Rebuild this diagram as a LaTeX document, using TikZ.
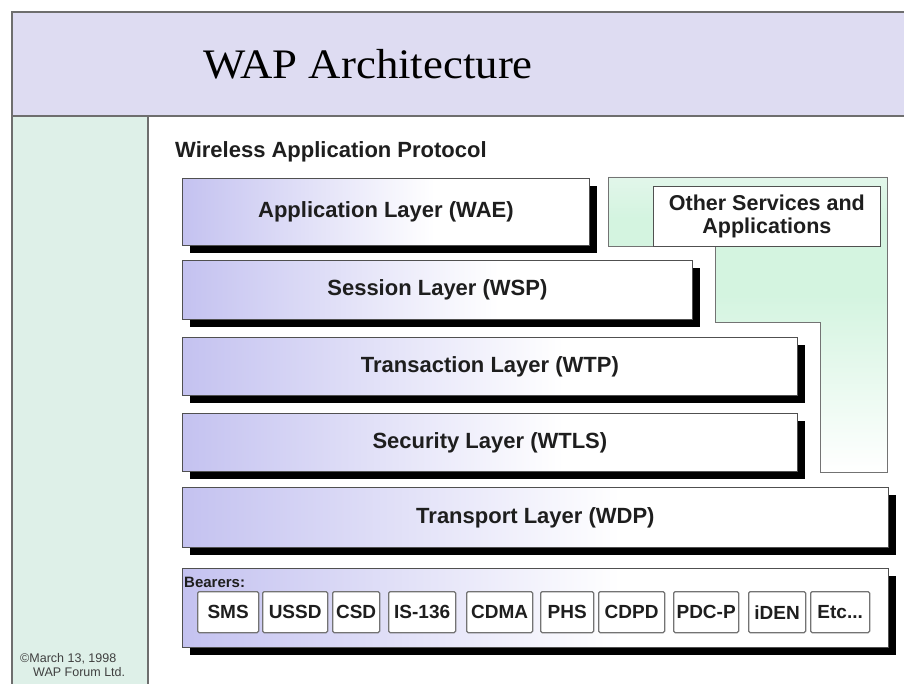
\documentclass[tikz,border=0pt]{standalone}
\usepackage{fontspec}
\setmainfont{Liberation Serif}
\setsansfont{Liberation Sans}
\usetikzlibrary{shadows}
\definecolor{bandcol}{RGB}{222,220,242}
\definecolor{colgreen}{RGB}{222,240,232}
\definecolor{lav}{RGB}{196,194,240}
\definecolor{grnA}{RGB}{226,246,234}
\definecolor{grnB}{RGB}{212,244,224}
\definecolor{framecol}{RGB}{110,110,110}
\definecolor{boxline}{RGB}{80,80,80}
\definecolor{txt}{RGB}{30,30,30}
\pgfdeclarehorizontalshading{layershade}{100bp}{color(0bp)=(lav); color(25bp)=(lav); color(56bp)=(white); color(100bp)=(white)}
\pgfdeclareverticalshading{greenshade}{100bp}{color(0bp)=(white); color(25bp)=(white); color(55bp)=(grnB); color(68bp)=(grnB); color(75bp)=(grnA); color(100bp)=(grnA)}
\tikzset{
  layer/.style={draw=boxline, line width=0.8pt, shading=layershade, anchor=north west, inner sep=0pt,
    font=\sffamily\bfseries\fontsize{22}{24}\selectfont, text=txt,
    general shadow={fill=black, shadow xshift=7.5pt, shadow yshift=-8pt}},
  bearer/.style={draw=boxline!80, line width=1.3pt, rounded corners=1.5pt, fill=white, anchor=north west,
    inner sep=0pt, minimum height=41pt, font=\sffamily\bfseries\fontsize{19}{20}\selectfont, text=txt},
  small/.style={anchor=base west, inner sep=0pt, font=\sffamily\fontsize{12.5}{13}\selectfont, text=black!75},
}
\begin{document}
\begin{tikzpicture}[x=1pt,y=-1pt]
\useasboundingbox (0,0) rectangle (904,684);
\fill[white] (0,0) rectangle (904,684);
% title band and left column
\fill[bandcol] (12,12) rectangle (904,116);
\fill[colgreen] (12,116) rectangle (148,684);
\draw[framecol, line width=1.5pt] (904,12) -- (12,12) -- (12,684);
\draw[framecol, line width=2.2pt] (12,116) -- (904,116);
\draw[framecol, line width=1.5pt] (148,116) -- (148,684);
\node[anchor=base west, inner sep=0pt, font=\fontsize{40}{44}\selectfont, text=black] (title) at (203,79) {\scalebox{1.12}[1.05]{WAP Architecture}};
\node[anchor=base west, inner sep=0pt, font=\sffamily\bfseries\fontsize{22}{24}\selectfont, text=txt] (wap) at (175,158) {Wireless Application Protocol};
% other services region
\draw[boxline!80, line width=0.8pt, shading=greenshade] (608,177) -- (887,177) -- (887,472) -- (820,472) -- (820,322) -- (715,322) -- (715,246) -- (608,246) -- cycle;
\node[draw=boxline, line width=0.8pt, fill=white, anchor=north west, inner sep=0pt, minimum width=227pt, minimum height=60pt,
  align=center, font=\sffamily\bfseries\fontsize{21.5}{23.5}\selectfont, text=txt] (other) at (653,186) {Other Services and\\Applications};
% layers
\node[layer, minimum width=407pt, minimum height=67pt] (app) at (182,178) {Application Layer (WAE)};
\node[layer, minimum width=510pt, minimum height=59pt] (ses) at (182,260) {Session Layer (WSP)};
\node[layer, minimum width=615pt, minimum height=58pt] (trn) at (182,337) {Transaction Layer (WTP)};
\node[layer, minimum width=615pt, minimum height=58pt] (sec) at (182,413) {Security Layer (WTLS)};
\node[layer, minimum width=706pt, minimum height=60pt] (trp) at (182,487) {Transport Layer (WDP)};
\node[layer, minimum width=706pt, minimum height=79pt] (bear) at (182,568) {};
\node[anchor=base west, inner sep=0pt, font=\sffamily\bfseries\fontsize{15}{16}\selectfont, text=txt] (bearlbl) at (184,587) {Bearers:};
% bearer boxes
\node[bearer, minimum width=61pt] (sms) at (197,591) {SMS};
\node[bearer, minimum width=65pt] (ussd) at (262,591) {USSD};
\node[bearer, minimum width=47pt] (csd) at (332,591) {CSD};
\node[bearer, minimum width=67pt] (is) at (388,591) {IS-136};
\node[bearer, minimum width=66pt] (cdma) at (466,591) {\raisebox{-3pt}{CDMA}};
\node[bearer, minimum width=53pt] (phs) at (540,591) {\raisebox{-3pt}{PHS}};
\node[bearer, minimum width=66pt] (cdpd) at (598,591) {CDPD};
\node[bearer, minimum width=65pt] (pdc) at (673,591) {PDC-P};
\node[bearer, minimum width=57pt] (iden) at (748,591) {\raisebox{-3pt}{iDEN}};
\node[bearer, minimum width=59pt] (etc) at (810,591) {Etc...};
% copyright
\node[small] (copy1) at (20,662) {\textcopyright March 13, 1998};
\node[small] (copy2) at (33,676) {WAP Forum Ltd.};
\end{tikzpicture}
\end{document}
